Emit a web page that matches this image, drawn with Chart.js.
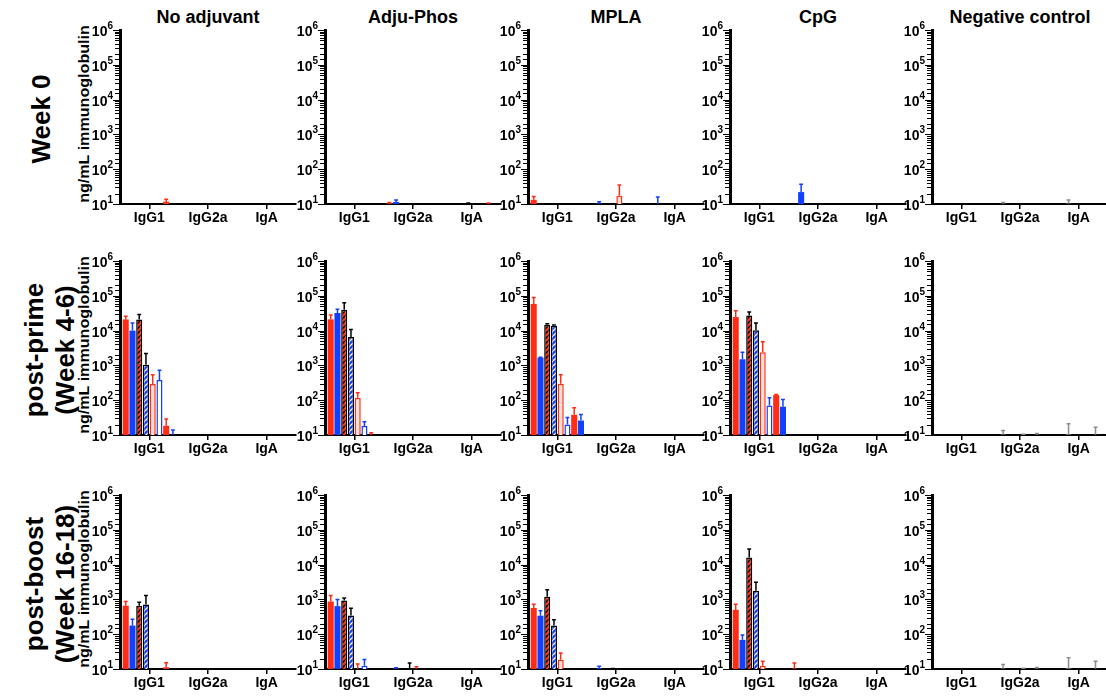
<!DOCTYPE html>
<html>
<head>
<meta charset="utf-8">
<script src="https://cdn.jsdelivr.net/npm/chart.js@4.4.0/dist/chart.umd.min.js"></script>
<style>
    body { margin: 0; background: #fff; font-family: "Liberation Sans", Arial, sans-serif; }
    #fig { position: relative; width: 1106px; height: 696px; overflow: hidden; }
    #fig canvas { position: absolute; }
    .colTitle { position: absolute; font-weight: bold; font-size: 18px; transform: translateX(-50%); white-space: nowrap; }
    .rowLabel, .yTitle { position: absolute; font-weight: bold; white-space: nowrap; text-align: center; }
    .rowLabel { font-size: 26px; line-height: 31px; transform: translate(-50%, -50%) rotate(-90deg); }
    .yTitle { font-size: 14px; transform: translate(-50%, -50%) rotate(-90deg) scaleX(1.15); }
</style>
</head>
<body>
<div id="fig"></div>
<script>
var categories = ['IgG1', 'IgG2a', 'IgA'];
var adjuvants = ['No adjuvant', 'Adju-Phos', 'MPLA', 'CpG', 'Negative control'];
var timepoints = [['Week 0'], ['post-prime', '(Week 4-6)'], ['post-boost', '(Week 16-18)']];
var yTitle = 'ng/mL immunoglobulin';
var yMin = 10;
var yMax = 1000000;
var _ = null;

// each panel: 8 series x [IgG1, IgG2a, IgA]; mean and top of error bar
var week0Mean = [
    [[_, _, _], [_, _, _], [_, _, _], [_, _, _], [_, _, _], [_, _, _], [11.7, _, _], [_, _, _]],
    [[_, 10.5, _], [_, 11.5, _], [_, _, _], [_, _, 10.2], [_, _, _], [_, _, _], [_, _, 10.2], [_, _, _]],
    [[13.2, _, _], [_, 10.3, 10.1], [_, _, _], [_, _, _], [_, 17.4, _], [_, _, _], [_, _, _], [_, _, _]],
    [[_, _, _], [_, 22, _], [_, _, _], [_, _, _], [_, _, _], [_, _, _], [_, _, _], [_, _, _]],
    [[_, _, _], [_, 10.3, _], [_, _, 10.4], [_, _, _], [_, _, _], [_, _, _], [_, _, _], [_, _, _]]
];
var week0Err = [
    [[_, _, _], [_, _, _], [_, _, _], [_, _, _], [_, _, _], [_, _, _], [13.6, _, _], [_, _, _]],
    [[_, 11, _], [_, 13, _], [_, _, _], [_, _, 10.6], [_, _, _], [_, _, _], [_, _, 10.6], [_, _, _]],
    [[16.3, _, _], [_, 11.7, 16], [_, _, _], [_, _, _], [_, 35, _], [_, _, _], [_, _, _], [_, _, _]],
    [[_, _, _], [_, 37, _], [_, _, _], [_, _, _], [_, _, _], [_, _, _], [_, _, _], [_, _, _]],
    [[_, _, _], [_, 11, _], [_, _, 13], [_, _, _], [_, _, _], [_, _, _], [_, _, _], [_, _, _]]
];
var primeMean = [
    [[21000, _, _], [10000, _, _], [21000, _, _], [1050, _, _], [290, _, _], [380, _, _], [18.5, _, _], [10.1, _, _]],
    [[21000, _, _], [32000, _, _], [40000, _, _], [6600, _, _], [118, _, _], [18, _, _], [10.1, _, _], [_, _, _]],
    [[58000, _, _], [1670, _, _], [14800, _, _], [13700, _, _], [296, _, _], [20, _, _], [38, _, _], [26, _, _]],
    [[24500, _, _], [1500, _, _], [27000, _, _], [10200, _, _], [2400, _, _], [71, _, _], [140, _, _], [65, _, _]],
    [[_, _, _], [_, 10.4, _], [_, _, 10.5], [_, _, _], [_, 10.2, _], [_, _, _], [_, 10.3, 10.1], [_, _, _]]
];
var primeErr = [
    [[26000, _, _], [16600, _, _], [29000, _, _], [2200, _, _], [540, _, _], [720, _, _], [29, _, _], [14, _, _]],
    [[28000, _, _], [41000, _, _], [63000, _, _], [10700, _, _], [163, _, _], [24, _, _], [11.7, _, _], [_, _, _]],
    [[89000, _, _], [1720, _, _], [15800, _, _], [14500, _, _], [540, _, _], [32, _, _], [61, _, _], [39, _, _]],
    [[37000, _, _], [2400, _, _], [34000, _, _], [16600, _, _], [4800, _, _], [118, _, _], [146, _, _], [105, _, _]],
    [[_, _, _], [_, 13.4, _], [_, _, 21], [_, _, _], [_, 10.5, _], [_, _, _], [_, 11, 16.6], [_, _, _]]
];
var boostMean = [
    [[660, _, _], [178, _, _], [660, _, _], [710, _, _], [_, _, _], [_, _, _], [11.2, _, _], [_, _, _]],
    [[870, _, _], [640, 10.4, _], [930, _, _], [345, 10.1, _], [10.1, 10.1, _], [12.5, _, _], [_, _, _], [_, _, _]],
    [[565, _, _], [340, 10.4, _], [1200, _, _], [178, 10.1, _], [18.5, _, _], [_, _, _], [_, _, _], [_, _, _]],
    [[500, 10.3, _], [69, _, _], [16000, _, _], [1780, _, _], [12.5, _, _], [_, _, _], [_, _, _], [_, _, _]],
    [[_, _, _], [_, 10.4, _], [_, _, 10.5], [_, _, _], [_, 10.2, _], [_, _, _], [_, 10.3, 10.1], [_, _, _]]
];
var boostErr = [
    [[870, _, _], [270, _, _], [830, _, _], [1300, _, _], [_, _, _], [_, _, _], [15, _, _], [_, _, _]],
    [[1300, _, _], [1000, 10.8, _], [1100, _, _], [560, 14.8, _], [14, 11.6, _], [18.6, _, _], [_, _, _], [_, _, _]],
    [[730, _, _], [470, 12, _], [1900, _, _], [260, 10.4, _], [29, _, _], [_, _, _], [_, _, _], [_, _, _]],
    [[730, 14.8, _], [95, _, _], [28000, _, _], [3100, _, _], [16.6, _, _], [_, _, _], [_, _, _], [_, _, _]],
    [[_, _, _], [_, 13.4, _], [_, _, 21], [_, _, _], [_, 10.5, _], [_, _, _], [_, 11, 16.6], [_, _, _]]
];

var means = [week0Mean, primeMean, boostMean];
var errors = [week0Err, primeErr, boostErr];

// layout
var colX = [120, 325, 528, 730, 932];
var rowTop = [30, 261, 495];
var plotW = 176;
var plotH = 174;
var yAxisW = 50;
var xAxisH = 26;
var padTop = 10;

var RED = '#ff2d14';
var BLUE = '#1240ff';
var GREY = '#8c8c8c';
var FONT = '"Liberation Sans", Arial, sans-serif';

Chart.defaults.font.family = FONT;
Chart.defaults.font.weight = 'bold';
Chart.defaults.color = '#000';

function makeHatch(bg, line) {
    var c = document.createElement('canvas');
    c.width = 5;
    c.height = 5;
    var ctx = c.getContext('2d');
    ctx.fillStyle = bg;
    ctx.fillRect(0, 0, 5, 5);
    ctx.strokeStyle = line;
    ctx.lineWidth = 1.3;
    ctx.beginPath();
    for (var k = -5; k <= 5; k += 5) {
        ctx.moveTo(k, 5);
        ctx.lineTo(k + 5, 0);
    }
    ctx.stroke();
    return ctx.createPattern(c, 'repeat');
}

var seriesStyles = [
    { fill: RED, border: RED, width: 0, err: RED },
    { fill: BLUE, border: BLUE, width: 0, err: BLUE },
    { fill: makeHatch(RED, '#000'), border: '#000', width: 1.5, err: '#000' },
    { fill: makeHatch(BLUE, '#fff'), border: '#000', width: 1.5, err: '#000' },
    { fill: '#ffe0d8', border: RED, width: 1.5, err: RED },
    { fill: '#ffffff', border: BLUE, width: 1.5, err: BLUE },
    { fill: RED, border: RED, width: 0, err: RED },
    { fill: BLUE, border: BLUE, width: 0, err: BLUE }
];
var controlStyle = { fill: '#ffffff', border: GREY, width: 1, err: GREY };

// upper error bars (mean + SD)
var errorBars = {
    id: 'errorBars',
    afterDatasetsDraw: function (chart) {
        var ctx = chart.ctx;
        var y = chart.scales.y;
        ctx.save();
        chart.data.datasets.forEach(function (ds, d) {
            var meta = chart.getDatasetMeta(d);
            meta.data.forEach(function (bar, i) {
                var top = ds.errTop[i];
                if (top == null || ds.data[i] == null) return;
                var yTop = y.getPixelForValue(top);
                var half = bar.width * 0.32;
                ctx.strokeStyle = ds.errColor;
                ctx.lineWidth = 1.5;
                ctx.beginPath();
                ctx.moveTo(bar.x, bar.y);
                ctx.lineTo(bar.x, yTop);
                ctx.moveTo(bar.x - half, yTop);
                ctx.lineTo(bar.x + half, yTop);
                ctx.stroke();
            });
        });
        ctx.restore();
    }
};

// log axis: tick marks (long at each decade) and 10^n labels with a raised exponent
var logAxis = {
    id: 'logAxis',
    afterDraw: function (chart) {
        var y = chart.scales.y;
        var ctx = chart.ctx;
        var x0 = chart.chartArea.left - 1;
        ctx.save();
        ctx.strokeStyle = '#000';
        ctx.fillStyle = '#000';
        ctx.lineWidth = 1;
        y.ticks.forEach(function (t) {
            var p = Math.round(y.getPixelForValue(t.value)) + 0.5;
            var e = Math.log10(t.value);
            var major = Math.abs(e - Math.round(e)) < 1e-6;
            var len = major ? 6 : 4;
            ctx.beginPath();
            ctx.moveTo(x0 - len, p);
            ctx.lineTo(x0, p);
            ctx.stroke();
            if (!major) return;
            var exp = String(Math.round(e));
            ctx.font = 'bold 10px ' + FONT;
            var expW = ctx.measureText(exp).width;
            ctx.textAlign = 'right';
            ctx.textBaseline = 'alphabetic';
            ctx.fillText(exp, x0 - 6, p - 2);
            ctx.font = 'bold 14px ' + FONT;
            ctx.fillText('10', x0 - 6 - expW, p + 5);
        });
        ctx.restore();
    }
};

function addText(cls, text, left, top) {
    var div = document.createElement('div');
    div.className = cls;
    div.innerHTML = text;
    div.style.left = left + 'px';
    div.style.top = top + 'px';
    document.getElementById('fig').appendChild(div);
}

function plotPanel(row, col) {
    var canvas = document.createElement('canvas');
    canvas.width = yAxisW + plotW + 2;
    canvas.height = padTop + plotH + xAxisH;
    canvas.style.left = (colX[col] - yAxisW) + 'px';
    canvas.style.top = (rowTop[row] - padTop) + 'px';
    document.getElementById('fig').appendChild(canvas);

    var panelMean = means[row][col];
    var panelErr = errors[row][col];
    var datasets = panelMean.map(function (serie, s) {
        var st = col === 4 ? controlStyle : seriesStyles[s];
        return {
            data: serie,
            errTop: panelErr[s],
            errColor: st.err,
            backgroundColor: st.fill,
            borderColor: st.border,
            borderWidth: st.width,
            categoryPercentage: 0.92,
            barPercentage: 0.9
        };
    });

    new Chart(canvas, {
        type: 'bar',
        data: { labels: categories, datasets: datasets },
        options: {
            responsive: false,
            animation: false,
            devicePixelRatio: 1,
            layout: { padding: { top: padTop, right: 2, left: 0, bottom: 0 } },
            plugins: { legend: { display: false }, tooltip: { enabled: false } },
            scales: {
                x: {
                    afterFit: function (scale) { scale.height = xAxisH; },
                    grid: { display: true, drawOnChartArea: false, drawTicks: true, tickLength: 5, offset: false, color: '#000', lineWidth: 1.5 },
                    border: { display: true, color: '#000', width: 2 },
                    ticks: { font: { size: 14, weight: 'bold' }, padding: 1, color: '#000' }
                },
                y: {
                    type: 'logarithmic',
                    min: yMin,
                    max: yMax,
                    afterFit: function (scale) { scale.width = yAxisW; },
                    grid: { display: false, drawTicks: false },
                    border: { display: true, color: '#000', width: 3 },
                    ticks: { display: false, autoSkip: false }
                }
            }
        },
        plugins: [errorBars, logAxis]
    });
}

adjuvants.forEach(function (name, c) {
    addText('colTitle', name, colX[c] + plotW / 2, 7);
});
timepoints.forEach(function (lines, r) {
    var mid = rowTop[r] + plotH / 2;
    addText('rowLabel', lines.join('<br>'), lines.length > 1 ? 50 : 41, mid + 2);
    addText('yTitle', yTitle, 84, mid - 3);
    for (var c = 0; c < adjuvants.length; c++) {
        plotPanel(r, c);
    }
});
</script>
</body>
</html>
